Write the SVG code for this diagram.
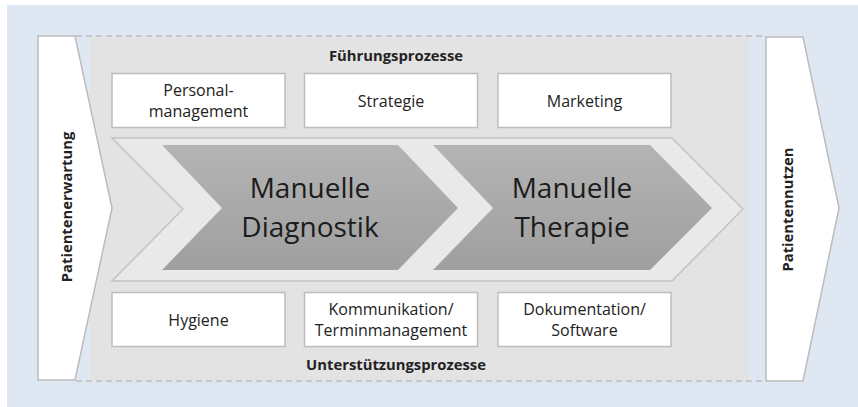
<svg xmlns="http://www.w3.org/2000/svg" width="858" height="407" viewBox="0 0 858 407">
  <defs>
    <linearGradient id="chev" x1="0" y1="0" x2="0" y2="1">
      <stop offset="0" stop-color="#b4b4b4"/>
      <stop offset="1" stop-color="#9f9f9f"/>
    </linearGradient>
  </defs>
  <style>
    .box { fill: #ffffff; stroke: #bdbdbd; stroke-width: 1.5; }
    .pent { fill: #ffffff; stroke: #bcbcbc; stroke-width: 1.5; }
    .lbl { font-family: "Open Sans", "Liberation Sans", sans-serif; font-size: 16px; fill: #222222; text-anchor: middle; }
    .hdr { font-family: "Open Sans", "Liberation Sans", sans-serif; font-size: 14.8px; font-weight: bold; fill: #222222; text-anchor: middle; }
    .big { font-family: "Open Sans", "Liberation Sans", sans-serif; font-size: 28px; fill: #1c1c1c; text-anchor: middle; }
    .dash { stroke: #bdbdbd; stroke-width: 1.5; stroke-dasharray: 6 4; fill: none; }
  </style>

  <!-- background -->
  <rect x="7" y="5" width="851" height="402" fill="#dfe8f2"/>

  <!-- process area -->
  <g id="area">
    <rect x="90" y="36.5" width="659" height="344.5" fill="#e3e3e3"/>
    <line class="dash" x1="76" y1="36" x2="766" y2="36"/>
    <line class="dash" x1="76" y1="381" x2="766" y2="381"/>
  </g>

  <!-- left pentagon -->
  <g id="patientenerwartung">
    <polygon class="pent" points="38,36 75,36 112,208 75,380 38,380"/>
    <text class="hdr" transform="translate(72,207) rotate(-90)">Patientenerwartung</text>
  </g>

  <!-- right pentagon -->
  <g id="patientennutzen">
    <polygon class="pent" points="766,37 803,37 839,208 803,381 766,381"/>
    <text class="hdr" transform="translate(793,209.5) rotate(-90)">Patientennutzen</text>
  </g>

  <!-- headers -->
  <g id="fuehrungsprozesse">
    <text class="hdr" x="396" y="61">Führungsprozesse</text>
  </g>
  <g id="unterstuetzungsprozesse">
    <text class="hdr" x="396" y="370">Unterstützungsprozesse</text>
  </g>

  <!-- top boxes -->
  <g id="personalmanagement">
    <rect class="box" x="112" y="73.5" width="173" height="54"/>
    <text class="lbl" x="198.5" y="96">Personal-</text>
    <text class="lbl" x="198.5" y="117">management</text>
  </g>
  <g id="strategie">
    <rect class="box" x="304.5" y="73.5" width="173" height="54"/>
    <text class="lbl" x="391" y="107">Strategie</text>
  </g>
  <g id="marketing">
    <rect class="box" x="498" y="73.5" width="173" height="54"/>
    <text class="lbl" x="584.5" y="107">Marketing</text>
  </g>

  <!-- main chevron band -->
  <g id="kernprozess">
    <polygon points="112,138 672,138 743,209 672,281 112,281 183,209" fill="#e9e9e9" stroke="#c2c2c2" stroke-width="1.5"/>
  </g>
  <g id="diagnostik">
    <polygon points="162,145 398,145 458,208 398,270 162,270 222,208" fill="url(#chev)"/>
    <text class="big" x="310" y="198">Manuelle</text>
    <text class="big" x="310" y="237">Diagnostik</text>
  </g>
  <g id="therapie">
    <polygon points="433,145 650,145 712,208 650,270 433,270 493,208" fill="url(#chev)"/>
    <text class="big" x="572" y="198">Manuelle</text>
    <text class="big" x="572" y="237">Therapie</text>
  </g>

  <!-- bottom boxes -->
  <g id="hygiene">
    <rect class="box" x="112" y="292.5" width="173" height="54"/>
    <text class="lbl" x="198.5" y="326">Hygiene</text>
  </g>
  <g id="kommunikation">
    <rect class="box" x="304.5" y="292.5" width="173" height="54"/>
    <text class="lbl" x="391" y="315">Kommunikation/</text>
    <text class="lbl" x="391" y="336">Terminmanagement</text>
  </g>
  <g id="dokumentation">
    <rect class="box" x="498" y="292.5" width="173" height="54"/>
    <text class="lbl" x="584.5" y="315">Dokumentation/</text>
    <text class="lbl" x="584.5" y="336">Software</text>
  </g>

  <g id="connectors"></g>
</svg>
